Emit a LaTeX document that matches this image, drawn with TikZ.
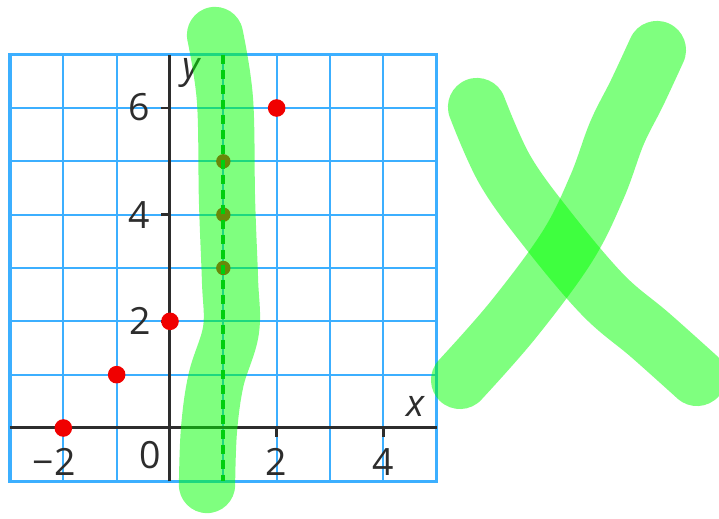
\documentclass[tikz,border=0pt]{standalone}
\usepackage{fontspec}
\setmainfont{Open Sans}
\begin{document}
\begin{tikzpicture}[x=1cm,y=1cm,
  gridline/.style={draw=gridblue, line width=1.2pt},
  axisline/.style={draw=axisgray, line width=1.6pt},
  tick/.style={draw=axisgray, line width=1.3pt},
  lbl/.style={font=\fontsize{20}{24}\selectfont, text=axisgray, inner sep=0pt},
  reddot/.style={circle, fill=dotred, inner sep=0pt, minimum size=0.33cm},
  smalldot/.style={circle, fill=darkdot, inner sep=0pt, minimum size=0.27cm},
  hl/.style={draw=hlgreen, draw opacity=0.5, line width=30pt, line cap=round, line join=round}]
\definecolor{gridblue}{RGB}{60,175,255}
\definecolor{axisgray}{RGB}{45,45,45}
\definecolor{dotred}{RGB}{240,0,0}
\definecolor{darkdot}{RGB}{210,20,20}
\definecolor{hlgreen}{RGB}{0,255,0}
\definecolor{dashgreen}{RGB}{0,160,30}
\useasboundingbox (-3.1875,-1.706) rectangle (10.294,8.025);
% grid
\foreach \i in {-2,...,4} \draw[gridline] (\i,-1) -- (\i,7);
\foreach \j in {0,...,6} \draw[gridline] (-3,\j) -- (5,\j);
\draw[draw=gridblue, line width=1.7pt] (-3,-1) rectangle (5,7);
% axes
\draw[axisline] (-3,0) -- (5,0);
\draw[axisline] (0,-1) -- (0,7);
\foreach \j in {2,4,6} \draw[tick] (-0.17,\j) -- (0,\j);
\foreach \i in {2,4} \draw[tick] (\i,0) -- (\i,-0.17);
% labels
\node[lbl] (l6) at (-0.58,6.02) {6};
\node[lbl] (l4) at (-0.58,4.0) {4};
\node[lbl] (l2) at (-0.56,2.0) {2};
\node[lbl] (l0) at (-0.38,-0.5) {0};
\node[lbl] (lm2) at (-2.17,-0.64) {\char"2212 2};
\node[lbl] (lx2) at (2.0,-0.64) {2};
\node[lbl] (lx4) at (4.0,-0.64) {4};
\node[lbl] (lx) at (4.6,0.4) {\itshape x};
\node[lbl] (ly) at (0.4,6.65) {\itshape y};
% points
\node[reddot] (p1) at (-2,0) {};
\node[reddot] (p2) at (-1,1) {};
\node[reddot] (p3) at (0,2) {};
\node[reddot] (p4) at (2,6) {};
\node[smalldot] (q1) at (1,3) {};
\node[smalldot] (q2) at (1,4) {};
\node[smalldot] (q3) at (1,5) {};
% dashed line
\coordinate (dtop) at (1,7);
\coordinate (dbot) at (1,-1);
\draw[dashgreen, line width=2pt, dash pattern=on 5pt off 3pt] (dtop) -- (dbot);
% highlights
\draw[hl] plot[smooth, tension=0.6] coordinates {(0.844,7.369) (1.031,6.150) (1.069,4.275) (1.125,2.775) (1.144,1.838) (0.863,0.900) (0.731,-0.0375) (0.694,-1.069)};
\draw[hl, line width=31pt] plot[smooth, tension=0.6] coordinates {(5.756,6.019) (6.281,4.838) (7.088,3.713) (8.119,2.494) (9.0,1.744) (9.881,0.956)};
\draw[hl, line width=31pt] plot[smooth, tension=0.6] coordinates {(5.438,0.9) (6.431,2.025) (7.444,3.394) (8.006,4.519) (8.381,5.531) (8.756,6.281) (9.131,7.088)};
\end{tikzpicture}
\end{document}
